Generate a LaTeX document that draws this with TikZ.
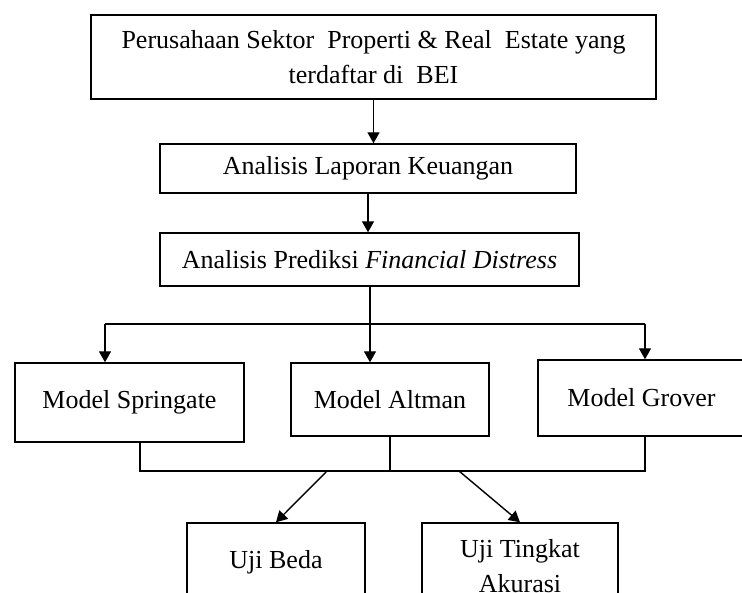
\documentclass[tikz,border=0pt]{standalone}
\usepackage{fontspec}
\setmainfont{Liberation Serif}
\usetikzlibrary{arrows.meta}
\begin{document}
\begin{tikzpicture}[x=1pt,y=-1pt,
  box/.style={draw, line width=1.4pt, inner sep=0pt, align=center,
    font=\fontsize{26}{35}\selectfont},
  arr/.style={line width=1.4pt, -{Triangle[width=12pt,length=11pt]}},
  ln/.style={line width=1.4pt}]
\useasboundingbox (0,0) rectangle (742,593);
\clip (0,0) rectangle (742,593);
% boxes
\node[box, minimum width=565pt, minimum height=84pt] (top) at (373.5,57)
  {Perusahaan Sektor\ \ Properti \& Real\ \ Estate yang\\terdaftar di\ \ BEI};
\node[box, minimum width=416pt, minimum height=49pt] (lap) at (368,168.5)
  {Analisis Laporan Keuangan};
\node[box, minimum width=419pt, minimum height=53pt] (pred) at (369.5,259.5)
  {Analisis Prediksi \textit{Financial Distress}};
\node[box, minimum width=229pt, minimum height=79pt] (spr) at (129.5,402.5)
  {Model Springate};
\node[box, minimum width=198pt, minimum height=73pt] (alt) at (390,399.5)
  {Model Altman};
\node[box, minimum width=207pt, minimum height=76pt] (gro) at (641.5,398)
  {Model Grover};
\node[box, minimum width=178pt, minimum height=78pt] (beda) at (276,562)
  {Uji Beda};
\node[box, minimum width=196pt, minimum height=86pt] (akur) at (520,566)
  {Uji Tingkat\\Akurasi};
% junction coordinates
\coordinate (j) at (370,324);
\coordinate (jl) at (105,324);
\coordinate (jr) at (645,324);
\coordinate (b1) at (140,471);
\coordinate (b2) at (390,471);
\coordinate (b3) at (645,471);
\coordinate (d1) at (327,471);
\coordinate (d2) at (459,471);
% connectors
\draw[arr] (top.south) -- (top.south |- lap.north);
\draw[arr] (lap.south) -- (lap.south |- pred.north);
\draw[ln] (pred.south -| j) -- (j);
\draw[ln] (jl) -- (jr);
\draw[arr] (jl) -- (jl |- spr.north);
\draw[arr] (j) -- (j |- alt.north);
\draw[arr] (jr) -- (jr |- gro.north);
\draw[ln] (b1 |- spr.south) -- (b1) -- (b3) -- (b3 |- gro.south);
\draw[ln] (alt.south) -- (b2);
\draw[arr] (d1) -- (beda.north);
\draw[arr] (d2) -- (akur.north);
\end{tikzpicture}
\end{document}
